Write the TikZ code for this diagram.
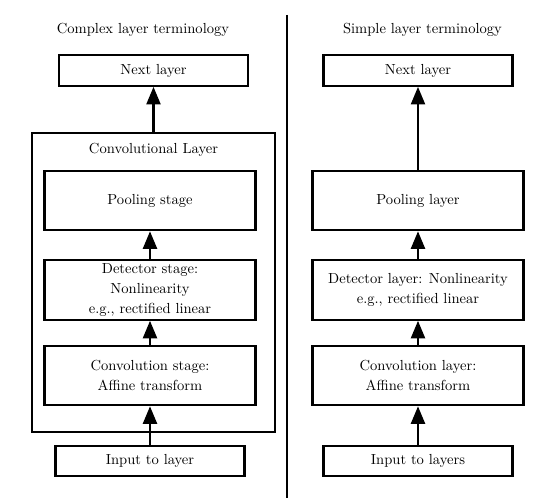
\documentclass[tikz,border=0pt]{standalone}
\usetikzlibrary{arrows.meta}
\begin{document}
\begin{tikzpicture}[x=0.686pt, y=-0.686pt,
  box/.style={draw, line width=1.5pt, align=center, inner sep=0pt,
    font=\fontsize{10}{13.7}\selectfont},
  wide/.style={box, minimum width=144.7pt, minimum height=40.8pt},
  narrow/.style={box, minimum width=129.7pt, minimum height=21pt},
  label/.style={font=\fontsize{10}{13.7}\selectfont},
  flow/.style={line width=1.5pt, -{Triangle[width=9.6pt, length=12pt]}},
  divider/.style={line width=1.5pt}]
\useasboundingbox (0,0) rectangle (545,501);

% ---- complex terminology (left column) ----
\node[label] (titleL) at (143,30) {Complex layer terminology};
\node[narrow] (nextL) at (153.5,70.5) {Next layer};
\node[box, minimum width=166.7pt, minimum height=205.1pt] (convlayer) at (153.5,282.5) {};
\node[label] (convlabel) at (153.5,150) {Convolutional Layer};
\node[wide] (poolL) at (150,200.5) {Pooling stage};
\node[wide] (detL) at (150,290) {Detector stage:\\Nonlinearity\\e.g., rectified linear};
\node[wide] (convL) at (150,375.5) {Convolution stage:\\Affine transform};
\node[narrow] (inL) at (150,461) {Input to layer};

\draw[flow] (inL.north) -- (convL.south);
\draw[flow] (convL.north) -- (detL.south);
\draw[flow] (detL.north) -- (poolL.south);
\draw[flow] (convlayer.north) -- (nextL.south);

% ---- separator ----
\coordinate (sepTop) at (287,15);
\coordinate (sepBot) at (287,498);
\draw[divider] (sepTop) -- (sepBot);

% ---- simple terminology (right column) ----
\node[label] (titleR) at (422.5,30) {Simple layer terminology};
\node[narrow] (nextR) at (418,70.5) {Next layer};
\node[wide] (poolR) at (418,200.5) {Pooling layer};
\node[wide] (detR) at (418,290) {Detector layer: Nonlinearity\\e.g., rectified linear};
\node[wide] (convR) at (418,375.5) {Convolution layer:\\Affine transform};
\node[narrow] (inR) at (418,461) {Input to layers};

\draw[flow] (inR.north) -- (convR.south);
\draw[flow] (convR.north) -- (detR.south);
\draw[flow] (detR.north) -- (poolR.south);
\draw[flow] (poolR.north) -- (nextR.south);
\end{tikzpicture}
\end{document}
